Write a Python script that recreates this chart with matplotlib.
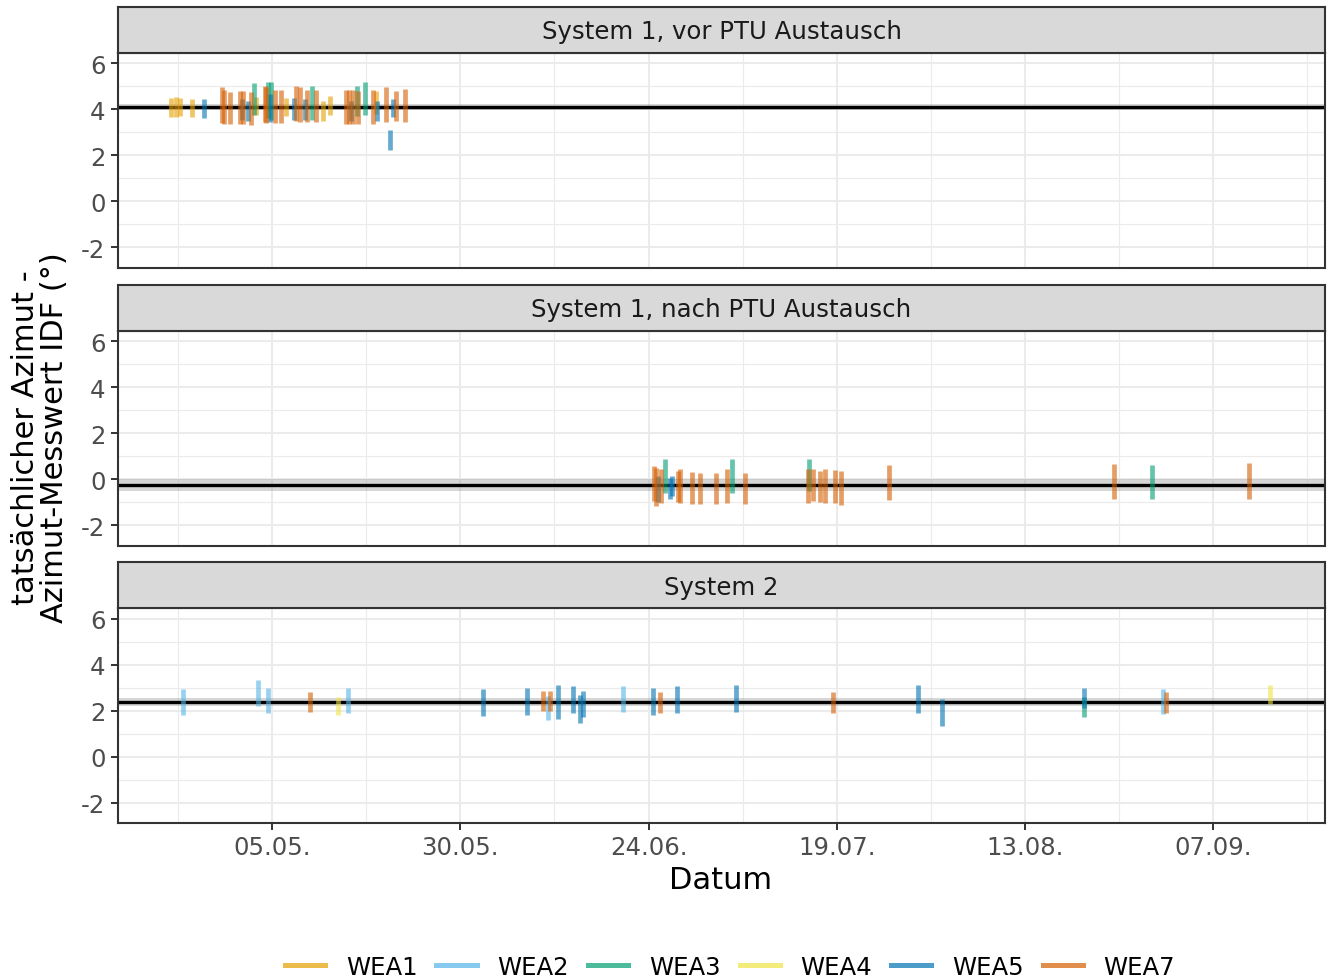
import matplotlib.pyplot as plt
import matplotlib.dates as mdates
import numpy as np
import pandas as pd
from matplotlib.lines import Line2D

plt.rcParams['font.family'] = 'DejaVu Sans'
plt.rcParams['axes.unicode_minus'] = False

# ## Daten
wea_names = ['WEA1', 'WEA2', 'WEA3', 'WEA4', 'WEA5', 'WEA7']
wea_colors = ['#E69F00', '#56B4E9', '#009E73', '#F0E442', '#0072B2', '#D55E00']

panel_titles = ['System 1, vor PTU Austausch', 'System 1, nach PTU Austausch', 'System 2']
mean_offset = [4.10, -0.24, 2.39]   # mittlere Abweichung je System
mean_ci = [0.15, 0.25, 0.18]        # halbe Breite des Konfidenzbands

tick_dates = ['2021-05-05', '2021-05-30', '2021-06-24', '2021-07-19', '2021-08-13', '2021-09-07']
minor_dates = ['2021-04-22 12:00', '2021-05-17 12:00', '2021-06-11 12:00', '2021-07-06 12:00',
               '2021-07-31 12:00', '2021-08-25 12:00', '2021-09-19 12:00']

# System 1, vor PTU Austausch
p1_wea = ['WEA1', 'WEA1', 'WEA1', 'WEA1', 'WEA5', 'WEA7', 'WEA7', 'WEA7', 'WEA7', 'WEA5',
          'WEA7', 'WEA5', 'WEA7', 'WEA3', 'WEA1', 'WEA7', 'WEA7', 'WEA3', 'WEA5', 'WEA3',
          'WEA7', 'WEA7', 'WEA1', 'WEA5', 'WEA7', 'WEA7', 'WEA5', 'WEA7', 'WEA3', 'WEA7',
          'WEA1', 'WEA1', 'WEA7', 'WEA7', 'WEA5', 'WEA7', 'WEA3', 'WEA7', 'WEA3', 'WEA7',
          'WEA1', 'WEA5', 'WEA7', 'WEA5', 'WEA5', 'WEA7', 'WEA7']
p1_time = ['2021-04-21 14:00', '2021-04-22 06:00', '2021-04-22 19:00', '2021-04-24 09:00',
           '2021-04-25 23:00', '2021-04-28 09:00', '2021-04-28 15:00', '2021-04-29 10:00',
           '2021-04-30 18:00', '2021-05-01 00:00', '2021-05-01 04:00', '2021-05-01 19:00',
           '2021-05-02 05:00', '2021-05-02 15:00', '2021-05-02 21:00', '2021-05-04 02:00',
           '2021-05-04 05:00', '2021-05-04 11:00', '2021-05-04 18:00', '2021-05-04 21:00',
           '2021-05-05 10:00', '2021-05-06 05:00', '2021-05-06 21:00', '2021-05-07 22:00',
           '2021-05-08 05:00', '2021-05-08 17:00', '2021-05-09 09:00', '2021-05-09 16:00',
           '2021-05-10 07:00', '2021-05-10 20:00', '2021-05-11 18:00', '2021-05-12 17:00',
           '2021-05-14 20:00', '2021-05-15 05:00', '2021-05-15 12:00', '2021-05-15 18:00',
           '2021-05-16 07:00', '2021-05-16 10:00', '2021-05-17 08:00', '2021-05-18 10:00',
           '2021-05-18 19:00', '2021-05-18 23:00', '2021-05-20 03:00', '2021-05-20 16:00',
           '2021-05-21 02:00', '2021-05-21 11:00', '2021-05-22 16:00']
p1_lo = [3.65, 3.65, 3.70, 3.65, 3.60, 3.40, 3.35, 3.35, 3.35, 3.55,
         3.35, 3.50, 3.30, 3.75, 3.75, 3.45, 3.40, 3.60, 3.45, 3.55,
         3.40, 3.40, 3.70, 3.55, 3.50, 3.45, 3.55, 3.45, 3.55, 3.45,
         3.50, 3.75, 3.35, 3.35, 3.50, 3.35, 3.70, 3.35, 3.75, 3.35,
         3.80, 3.50, 3.45, 2.25, 3.65, 3.50, 3.45]
p1_hi = [4.50, 4.55, 4.50, 4.45, 4.45, 4.95, 4.85, 4.75, 4.80, 4.45,
         4.80, 4.35, 4.75, 5.15, 4.55, 5.00, 4.95, 5.20, 4.65, 5.20,
         4.85, 4.85, 4.50, 4.50, 5.00, 4.95, 4.45, 4.85, 5.00, 4.85,
         4.35, 4.60, 4.85, 4.85, 4.35, 4.85, 5.00, 4.80, 5.20, 4.85,
         4.80, 4.35, 4.95, 3.10, 4.45, 4.80, 4.90]

# System 1, nach PTU Austausch
p2_wea = ['WEA7', 'WEA7', 'WEA5', 'WEA7', 'WEA3', 'WEA5', 'WEA5', 'WEA7', 'WEA7', 'WEA7',
          'WEA7', 'WEA7', 'WEA7', 'WEA3', 'WEA7', 'WEA7', 'WEA3', 'WEA7', 'WEA7', 'WEA7',
          'WEA7', 'WEA7', 'WEA7', 'WEA7', 'WEA3', 'WEA7']
p2_time = ['2021-06-24 18:00', '2021-06-25 00:00', '2021-06-25 06:00', '2021-06-25 16:00',
           '2021-06-26 05:00', '2021-06-26 21:00', '2021-06-27 03:00', '2021-06-27 22:00',
           '2021-06-28 04:00', '2021-06-29 19:00', '2021-06-30 20:00', '2021-07-02 23:00',
           '2021-07-04 10:00', '2021-07-05 02:00', '2021-07-06 20:00', '2021-07-15 04:00',
           '2021-07-15 07:00', '2021-07-15 20:00', '2021-07-16 19:00', '2021-07-17 11:00',
           '2021-07-18 18:00', '2021-07-19 13:00', '2021-07-25 23:00', '2021-08-24 21:00',
           '2021-08-29 22:00', '2021-09-11 18:00']
p2_lo = [-0.94, -1.16, -1.00, -1.01, -0.58, -0.87, -0.72, -1.00, -1.01, -1.06,
         -1.09, -1.09, -1.01, -0.58, -1.09, -1.01, -0.51, -0.94, -1.00, -1.05,
         -1.05, -1.13, -0.91, -0.87, -0.84, -0.84]
p2_hi = [0.58, 0.51, 0.14, 0.46, 0.87, 0.07, 0.14, 0.36, 0.46, 0.32,
         0.29, 0.29, 0.46, 0.87, 0.29, 0.46, 0.90, 0.43, 0.36, 0.46,
         0.40, 0.36, 0.61, 0.68, 0.62, 0.70]

# System 2
p3_wea = ['WEA2', 'WEA2', 'WEA2', 'WEA7', 'WEA4', 'WEA2', 'WEA5', 'WEA5', 'WEA7', 'WEA2',
          'WEA7', 'WEA5', 'WEA5', 'WEA5', 'WEA5', 'WEA2', 'WEA5', 'WEA7', 'WEA5', 'WEA5',
          'WEA7', 'WEA5', 'WEA5', 'WEA5', 'WEA3', 'WEA2', 'WEA7', 'WEA4']
p3_time = ['2021-04-23 05:00', '2021-05-03 02:00', '2021-05-04 12:00', '2021-05-10 01:00',
           '2021-05-13 19:00', '2021-05-15 03:00', '2021-06-02 01:00', '2021-06-07 20:00',
           '2021-06-10 01:00', '2021-06-10 15:00', '2021-06-10 22:00', '2021-06-12 00:00',
           '2021-06-14 00:00', '2021-06-14 22:00', '2021-06-15 06:00', '2021-06-20 14:00',
           '2021-06-24 15:00', '2021-06-25 13:00', '2021-06-27 20:00', '2021-07-05 14:00',
           '2021-07-18 13:00', '2021-07-29 20:00', '2021-08-02 00:00', '2021-08-20 21:00',
           '2021-08-20 21:00', '2021-08-31 08:00', '2021-08-31 17:00', '2021-09-14 13:00']
p3_lo = [1.83, 2.22, 1.90, 1.93, 1.80, 1.90, 1.78, 1.81, 2.01, 1.61,
         1.99, 1.65, 1.90, 1.49, 1.72, 1.94, 1.81, 1.90, 1.90, 1.94,
         1.90, 1.90, 1.32, 2.10, 1.75, 1.88, 1.90, 2.30]
p3_hi = [2.94, 3.35, 2.99, 2.80, 2.58, 2.99, 2.94, 2.99, 2.88, 2.65,
         2.84, 3.13, 3.06, 2.70, 2.88, 3.06, 2.99, 2.80, 3.06, 3.13,
         2.80, 3.10, 2.52, 2.99, 2.60, 2.95, 2.80, 3.13]

panels = [(p1_wea, p1_time, p1_lo, p1_hi),
          (p2_wea, p2_time, p2_lo, p2_hi),
          (p3_wea, p3_time, p3_lo, p3_hi)]

# ## Plot
W, H = 1331, 978
fig = plt.figure(figsize=(W/100, H/100), dpi=100)

def rect(x0, y0, x1, y1):
    return [x0/W, 1 - y1/H, (x1 - x0)/W, (y1 - y0)/H]

strip_px = [(7.5, 53.5), (285.5, 331.5), (563, 609)]
panel_px = [(53.5, 268.5), (331.5, 546.5), (609, 824)]
xl, xr = 118, 1325

xlim = mdates.date2num(pd.to_datetime(['2021-04-14 13:00', '2021-09-21 20:00']))
majors = mdates.date2num(pd.to_datetime(tick_dates))
minors = mdates.date2num(pd.to_datetime(minor_dates))

for i, (wea, tt, lo, hi) in enumerate(panels):
    ax = fig.add_axes(rect(xl, panel_px[i][0], xr, panel_px[i][1]))
    t = mdates.date2num(pd.to_datetime(tt))
    wea = np.array(wea)
    lo = np.array(lo)
    hi = np.array(hi)

    ax.axhspan(mean_offset[i] - mean_ci[i], mean_offset[i] + mean_ci[i], color='0.6', alpha=0.4, lw=0, zorder=2)
    ax.axhline(mean_offset[i], color='black', lw=2.4, zorder=2)

    for name, col in zip(wea_names, wea_colors):
        m = wea == name
        if m.any():
            ax.vlines(t[m], lo[m], hi[m], colors=col, alpha=0.6, lw=3.4, zorder=3)

    ax.set_xlim(xlim)
    ax.set_ylim(-2.88, 6.47)
    ax.set_xticks(majors)
    ax.set_xticks(minors, minor=True)
    ax.set_yticks([-2, 0, 2, 4, 6])
    ax.set_yticks([-1, 1, 3, 5], minor=True)
    ax.grid(which='major', color='#EBEBEB', lw=1.5)
    ax.grid(which='minor', color='#EBEBEB', lw=0.8)
    ax.set_axisbelow(True)
    for s in ax.spines.values():
        s.set_color('#333333')
        s.set_linewidth(1.5)
    ax.tick_params(which='minor', length=0)
    ax.tick_params(which='major', length=5, width=1.4, color='#333333',
                   labelcolor='#4D4D4D', labelsize=17.6, pad=4)
    if i < 2:
        ax.tick_params(axis='x', which='major', length=0, labelbottom=False)
    else:
        ax.xaxis.set_major_formatter(mdates.DateFormatter('%d.%m.'))

    sx = fig.add_axes(rect(xl, strip_px[i][0], xr, strip_px[i][1]))
    sx.set_facecolor('#D9D9D9')
    sx.set_xticks([])
    sx.set_yticks([])
    for s in sx.spines.values():
        s.set_color('#333333')
        s.set_linewidth(1.5)
    sx.text(0.5, 0.46, panel_titles[i], ha='center', va='center', size=17.6,
            color='#1A1A1A', transform=sx.transAxes)

fig.text(721/W, 1 - 881/H, 'Datum', ha='center', va='center', size=22)
fig.text(40/W, 1 - 438/H, 'tatsächlicher Azimut -\nAzimut-Messwert IDF (°)', rotation=90,
         ha='center', va='center', size=22, linespacing=1.0)

handles = [Line2D([0], [0], color=c, lw=3.6, alpha=0.7) for c in wea_colors]
fig.legend(handles, wea_names, loc='center', bbox_to_anchor=(730/W, 1 - 968/H), ncol=6,
           frameon=False, fontsize=17.6, handlelength=1.64, handletextpad=0.85,
           columnspacing=0.78, borderpad=0)

plt.savefig('out.png', dpi=100)
